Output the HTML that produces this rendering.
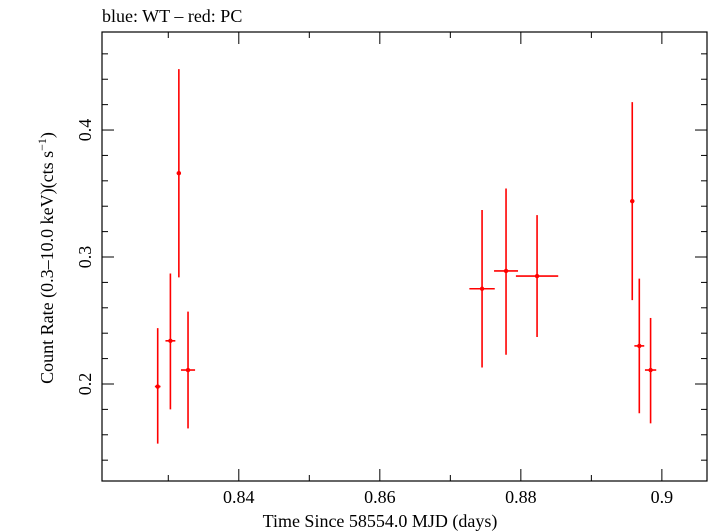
<!DOCTYPE html>
<html><head><meta charset="utf-8"><style>
body{margin:0;background:#fff;}
svg{display:block;font-family:"Liberation Serif",serif;}
</style></head><body>
<svg id="chart" width="709" height="532">
<text x="102" y="22" font-size="18">blue: WT – red: PC</text>
<rect x="102" y="32" width="605" height="449" fill="none" stroke="#000" stroke-width="1.2"/>
<g id="axes"></g>
<g id="marks"></g>
<text x="380" y="527" font-size="18" text-anchor="middle">Time Since 58554.0 MJD (days)</text>
<text transform="translate(53,258) rotate(-90)" font-size="18" text-anchor="middle">Count Rate (0.3–10.0 keV)(cts s<tspan dy="-7" font-size="12">−1</tspan><tspan dy="7">)</tspan></text>
</svg>
<script>
const times=[0.8285,0.8303,0.8315,0.8328,0.8745,0.8779,0.8823,0.8958,0.8968,0.8984];
const timeErr=[0.0004,0.0007,0.0003,0.001,0.0018,0.0017,0.003,0.0003,0.0007,0.0008];
const rates=[0.198,0.234,0.366,0.211,0.275,0.289,0.285,0.344,0.230,0.211];
const rateHi=[0.244,0.287,0.448,0.257,0.337,0.354,0.333,0.422,0.283,0.252];
const rateLo=[0.153,0.180,0.284,0.165,0.213,0.223,0.237,0.266,0.177,0.169];
const xTicks=[0.84,0.86,0.88,0.9];
const xTickLabels=["0.84","0.86","0.88","0.9"];
const yTicks=[0.2,0.3,0.4];
const yTickLabels=["0.2","0.3","0.4"];
const X0=0.8206,X1=0.9064,Y0=0.1236,Y1=0.4772;
const L=102,R=707,T=32,B=481;
const sx=v=>L+(v-X0)/(X1-X0)*(R-L);
const sy=v=>B-(v-Y0)/(Y1-Y0)*(B-T);
const NS="http://www.w3.org/2000/svg";
function mk(tag,at,parent){const e=document.createElementNS(NS,tag);for(const k in at)e.setAttribute(k,at[k]);parent.appendChild(e);return e;}
const ax=document.getElementById('axes');
// x minor/major ticks
for(let i=82;i<=90;i++){const v=i/100;const x=sx(v);if(x<L||x>R)continue;const major=i%2===0;const len=major?12:6;
const t1=mk('line',{x1:x,x2:x,y1:B,y2:B-len,stroke:'#000'},ax);


const t2=mk('line',{x1:x,x2:x,y1:T,y2:T+len,stroke:'#000'},ax);

}
xTicks.forEach((v,i)=>{const t=mk('text',{x:sx(v),y:B+22,'font-size':18,'text-anchor':'middle'},ax);t.textContent=xTickLabels[i];

});
for(let i=7;i<=23;i++){const v=i/50;const y=sy(v);if(y<T||y>B)continue;const major=i%5===0;const len=major?12:6;
const t1=mk('line',{x1:L,x2:L+len,y1:y,y2:y,stroke:'#000'},ax);


const t2=mk('line',{x1:R,x2:R-len,y1:y,y2:y,stroke:'#000'},ax);

}
yTicks.forEach((v,i)=>{const y=sy(v);const t=mk('text',{transform:`translate(91,${y}) rotate(-90)`,'font-size':18,'text-anchor':'middle'},ax);t.textContent=yTickLabels[i];

});
const mg=document.getElementById('marks');
times.forEach((t,i)=>{
const g=mk('g',{},mg);


mk('line',{x1:sx(t),x2:sx(t),y1:sy(rateHi[i]),y2:sy(rateLo[i]),stroke:'#f00','stroke-width':1.6},g);
mk('line',{x1:sx(t-timeErr[i]),x2:sx(t+timeErr[i]),y1:sy(rates[i]),y2:sy(rates[i]),stroke:'#f00','stroke-width':1.6},g);
mk('circle',{cx:sx(t),cy:sy(rates[i]),r:2.2,fill:'#f00'},g);
});
</script>
</body></html>
